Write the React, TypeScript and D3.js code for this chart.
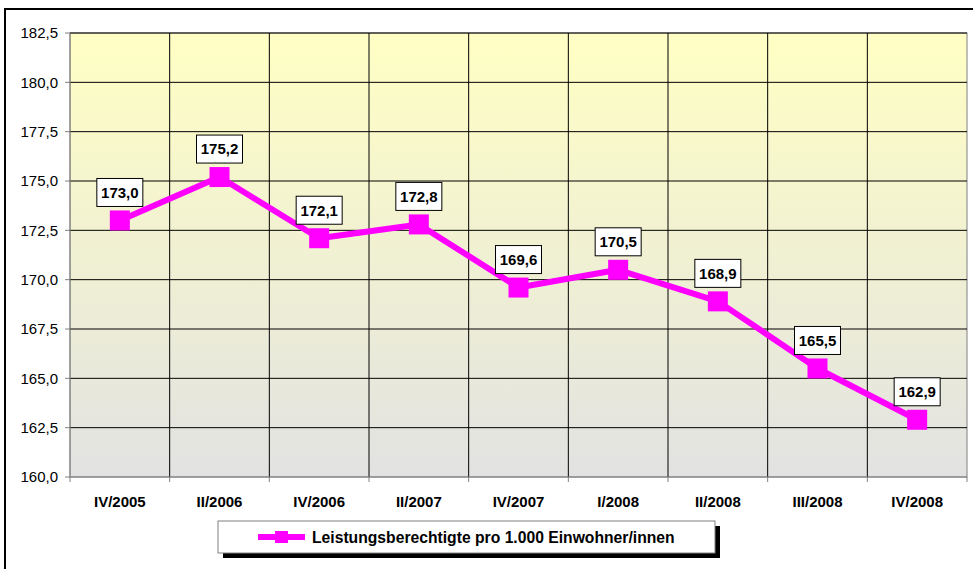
import React from "react";
import * as d3 from "d3";

// quarter labels and values (Leistungsberechtigte pro 1.000 Einwohner/innen)
const quarters = ["IV/2005", "II/2006", "IV/2006", "II/2007", "IV/2007", "I/2008", "II/2008", "III/2008", "IV/2008"];
const values = [173.0, 175.2, 172.1, 172.8, 169.6, 170.5, 168.9, 165.5, 162.9];
const yTicks = [160, 162.5, 165, 167.5, 170, 172.5, 175, 177.5, 180, 182.5];
const seriesName = "Leistungsberechtigte pro 1.000 Einwohner/innen";

const W = 973;
const H = 569;
const plot = { left: 70, right: 967, top: 33, bottom: 477 };

const fmt = (v: number) => v.toFixed(1).replace(".", ",");

export default function App() {
  const x = d3.scaleBand<string>().domain(quarters).range([plot.left, plot.right]);
  const y = d3.scaleLinear().domain([160, 182.5]).range([plot.bottom, plot.top]);
  const cx = (q: string) => (x(q) as number) + x.bandwidth() / 2;

  const line = d3
    .line<number>()
    .x((_, i) => cx(quarters[i]))
    .y((d) => y(d));

  const boundaries = quarters.map((q) => x(q) as number).concat([plot.right]);

  return (
    <svg
      width={W}
      height={H}
      style={{ position: "absolute", left: 0, top: 0, fontFamily: "Arial, 'Liberation Sans', sans-serif" }}
    >
      <defs>
        <linearGradient id="bg" x1="0" y1="0" x2="0" y2="1">
          <stop offset="0%" stopColor="#FFFFC4" />
          <stop offset="100%" stopColor="#E2E2E2" />
        </linearGradient>
      </defs>
      <rect x={0} y={0} width={W} height={H} fill="#fff" />
      {/* outer chart frame */}
      <rect x={5} y={9} width={W + 20} height={H + 20} fill="none" stroke="#000" strokeWidth={2} />

      {/* plot area */}
      <rect
        x={plot.left}
        y={plot.top}
        width={plot.right - plot.left}
        height={plot.bottom - plot.top}
        fill="url(#bg)"
        stroke="#808080"
        strokeWidth={1}
      />

      {/* horizontal grid */}
      {yTicks.slice(1).map((t) => (
        <line key={t} x1={plot.left} x2={plot.right} y1={y(t)} y2={y(t)} stroke="#000" strokeWidth={1} />
      ))}
      {/* vertical grid */}
      {boundaries.slice(1, -1).map((b, i) => (
        <line key={i} x1={b} x2={b} y1={plot.top} y2={plot.bottom} stroke="#000" strokeWidth={1} />
      ))}

      {/* axes */}
      <line x1={plot.left} x2={plot.left} y1={plot.top} y2={plot.bottom} stroke="#808080" />
      <line x1={plot.left} x2={plot.right} y1={plot.bottom} y2={plot.bottom} stroke="#808080" />
      {yTicks.map((t) => (
        <g key={t} transform={`translate(0, ${y(t)})`}>
          <line x1={plot.left - 5} x2={plot.left} stroke="#808080" />
          <text x={plot.left - 12} dy="0.35em" textAnchor="end" fontSize={15} fill="#000">
            {fmt(t)}
          </text>
        </g>
      ))}
      {boundaries.map((b, i) => (
        <line key={i} x1={b} x2={b} y1={plot.bottom} y2={plot.bottom + 5} stroke="#808080" />
      ))}
      {quarters.map((q) => (
        <text key={q} x={cx(q)} y={plot.bottom + 30} textAnchor="middle" fontSize={15} fontWeight="bold">
          {q}
        </text>
      ))}

      {/* series */}
      <path d={line(values) || ""} fill="none" stroke="#FF00FF" strokeWidth={6} strokeLinejoin="round" />
      {values.map((v, i) => (
        <rect key={i} x={cx(quarters[i]) - 10} y={y(v) - 10} width={20} height={20} fill="#FF00FF" />
      ))}

      {/* data labels */}
      {values.map((v, i) => (
        <g key={i} transform={`translate(${cx(quarters[i])}, ${y(v) - 28})`}>
          <rect x={-23} y={-14} width={46} height={28} fill="#fff" stroke="#000" strokeWidth={1} />
          <text textAnchor="middle" dy="0.36em" fontSize={15} fontWeight="bold">
            {fmt(v)}
          </text>
        </g>
      ))}

      {/* legend */}
      <rect x={223} y={526} width={497} height={32} fill="#000" />
      <rect x={218} y={521} width={497} height={32} fill="#fff" stroke="#808080" strokeWidth={1} />
      <line x1={258} x2={305} y1={537} y2={537} stroke="#FF00FF" strokeWidth={6} />
      <rect x={275} y={531} width={13} height={12} fill="#FF00FF" />
      <text x={312} y={543} fontSize={15.7} fontWeight="bold">
        {seriesName}
      </text>
    </svg>
  );
}
